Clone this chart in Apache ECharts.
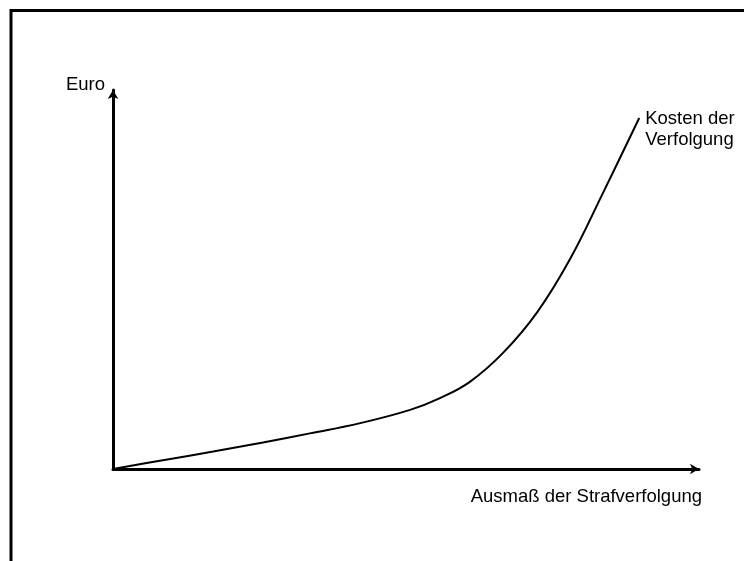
<!DOCTYPE html>
<html>
<head>
<meta charset="utf-8">
<script src="https://cdn.jsdelivr.net/npm/echarts@6/dist/echarts.min.js"></script>
<style>
  html, body { margin: 0; padding: 0; background: #fff; }
  #chart { width: 744px; height: 561px; }
</style>
</head>
<body>
<div id="chart"></div>
<script>
// Data (axes are unitless 0..100)
const xValues = [0, 8.5, 17.1, 25.6, 33.6, 42.2, 50.7, 55.8, 60.9, 66.6, 72.4, 78, 83.6, 89.8];
const costValues = [0, 2.3, 4.6, 7.0, 9.4, 12.1, 15.6, 18.7, 23.0, 30.7, 41.4, 55.4, 72.8, 92.6];
const seriesName = 'Kosten der\nVerfolgung';
const xAxisTitle = 'Ausmaß der Strafverfolgung';
const yAxisTitle = 'Euro';

const FONT = '"Liberation Sans", Arial, Helvetica, sans-serif';
const chart = echarts.init(document.getElementById('chart'), null, { renderer: 'canvas' });

const axisLineStyle = {
  show: true,
  onZero: false,
  symbol: ['none', 'arrow'],
  symbolSize: [8, 9],
  lineStyle: { color: '#000', width: 3 }
};

chart.setOption({
  animation: false,
  backgroundColor: '#fff',
  grid: { left: 113, right: 45, top: 90, bottom: 92 },
  graphic: [{
    type: 'polyline',
    silent: true,
    shape: { points: [[11, 561], [11, 10.5], [744, 10.5]] },
    style: { stroke: '#000', lineWidth: 3, fill: null }
  }],
  xAxis: {
    type: 'value', min: 0, max: 100,
    axisLine: axisLineStyle,
    axisTick: { show: false }, axisLabel: { show: false }, splitLine: { show: false },
    name: xAxisTitle,
    nameLocation: 'end',
    nameGap: 3,
    nameTextStyle: {
      fontFamily: FONT, fontSize: 18.5, color: '#000',
      align: 'right', verticalAlign: 'top', padding: [18, 0, 0, 0]
    }
  },
  yAxis: {
    type: 'value', min: 0, max: 100,
    axisLine: axisLineStyle,
    axisTick: { show: false }, axisLabel: { show: false }, splitLine: { show: false },
    name: yAxisTitle,
    nameLocation: 'end',
    nameGap: 5,
    nameTextStyle: {
      fontFamily: FONT, fontSize: 18.5, color: '#000',
      align: 'right', verticalAlign: 'middle', padding: [0, 8, 0, 0]
    }
  },
  series: [{
    name: seriesName,
    type: 'line',
    smooth: 0.4,
    showSymbol: false,
    symbol: 'none',
    lineStyle: { color: '#000', width: 2 },
    data: xValues.map((x, i) => [x, costValues[i]]),
    endLabel: {
      show: true,
      formatter: seriesName,
      fontFamily: FONT, fontSize: 18.5, lineHeight: 21, color: '#000',
      distance: 6,
      offset: [0, 11]
    }
  }]
});
</script>
</body>
</html>
